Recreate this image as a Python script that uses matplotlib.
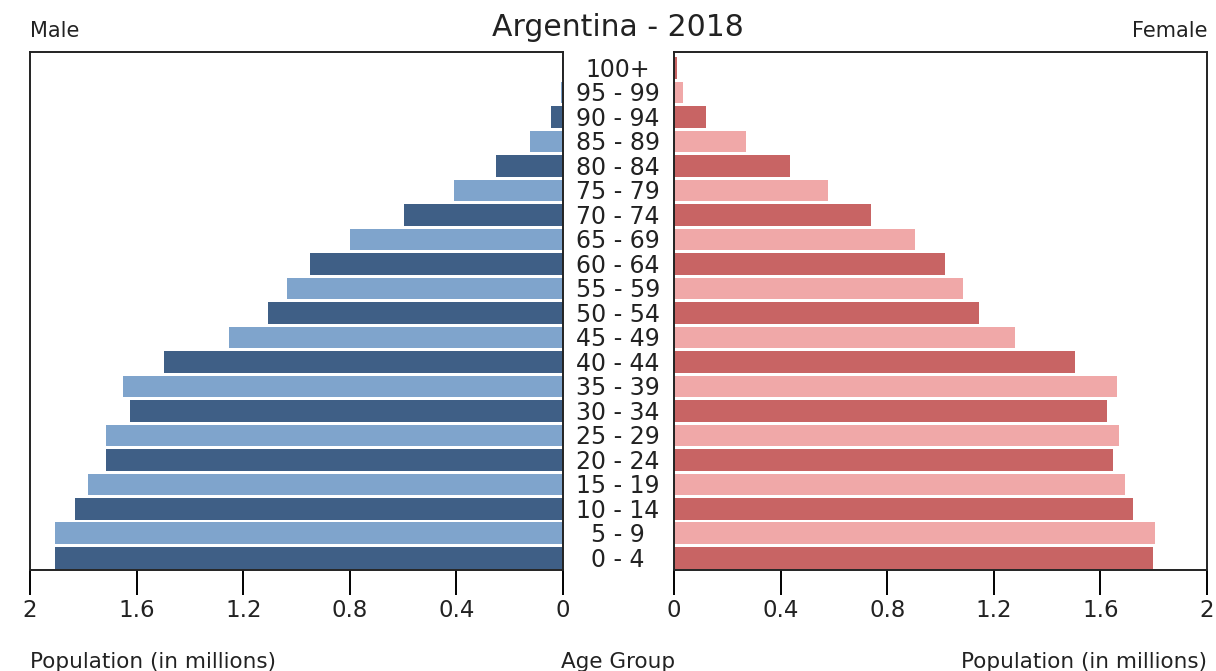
import matplotlib.pyplot as plt

# Age groups, bottom to top
age_groups = ['0 - 4', '5 - 9', '10 - 14', '15 - 19', '20 - 24', '25 - 29', '30 - 34',
              '35 - 39', '40 - 44', '45 - 49', '50 - 54', '55 - 59', '60 - 64', '65 - 69',
              '70 - 74', '75 - 79', '80 - 84', '85 - 89', '90 - 94', '95 - 99', '100+']

# Population in millions
male = [1.908, 1.908, 1.833, 1.781, 1.714, 1.714, 1.623, 1.652, 1.496, 1.255, 1.106,
        1.037, 0.950, 0.799, 0.597, 0.409, 0.253, 0.124, 0.044, 0.006, 0.002]
female = [1.796, 1.805, 1.721, 1.691, 1.647, 1.669, 1.624, 1.662, 1.504, 1.280, 1.145,
          1.085, 1.018, 0.906, 0.741, 0.576, 0.437, 0.270, 0.120, 0.032, 0.010]

x_ticks = [0, 0.4, 0.8, 1.2, 1.6, 2]
x_tick_labels = ['0', '0.4', '0.8', '1.2', '1.6', '2']

male_colors = ['#3f5f86', '#7fa4cc']
female_colors = ['#c86464', '#f0a8a8']
text_color = '#222222'

W, H = 1216, 671
fig = plt.figure(figsize=(W / 100, H / 100), dpi=100)

ax_m = fig.add_axes([30 / W, (H - 570) / H, 533 / W, 518 / H])
ax_f = fig.add_axes([674 / W, (H - 570) / H, 533 / W, 518 / H])

ypos = list(range(len(age_groups)))
ax_m.barh(ypos, male, height=0.88, color=[male_colors[i % 2] for i in ypos])
ax_f.barh(ypos, female, height=0.88, color=[female_colors[i % 2] for i in ypos])

for ax in (ax_m, ax_f):
    ax.set_xlim(0, 2)
    ax.set_ylim(-0.5, 20.65)
    ax.set_yticks([])
    ax.set_xticks(x_ticks)
    ax.set_xticklabels(x_tick_labels)
    ax.tick_params(axis='x', direction='out', length=18, width=1.4,
                   labelsize=16.5, labelcolor=text_color, pad=3)
    for s in ax.spines.values():
        s.set_linewidth(1.4)
        s.set_color('#222222')
ax_m.invert_xaxis()

# Age group labels in the middle gap
for i in ypos:
    fig.text(618 / W, (ax_m.transData.transform((0, i))[1] - 2) / H, age_groups[i],
             ha='center', va='center', fontsize=17, color=text_color)

fig.text(618 / W, 1 - 27 / H, 'Argentina - 2018', ha='center', va='center',
         fontsize=21.5, color=text_color)
fig.text(30 / W, 1 - 31 / H, 'Male', ha='left', va='center', fontsize=15, color=text_color)
fig.text(1207 / W, 1 - 31 / H, 'Female', ha='right', va='center', fontsize=15, color=text_color)
fig.text(30 / W, 1 - 662 / H, 'Population (in millions)', ha='left', va='center',
         fontsize=15.5, color=text_color)
fig.text(1207 / W, 1 - 662 / H, 'Population (in millions)', ha='right', va='center',
         fontsize=15.5, color=text_color)
fig.text(618 / W, 1 - 662 / H, 'Age Group', ha='center', va='center',
         fontsize=15.5, color=text_color)

fig.savefig('out.png', dpi=100)
